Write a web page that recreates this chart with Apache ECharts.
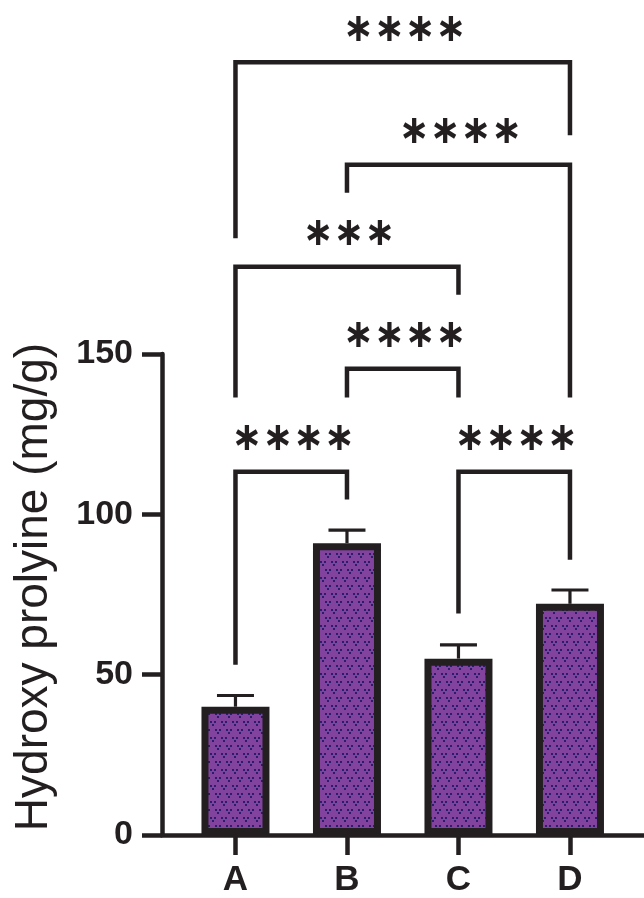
<!DOCTYPE html>
<html>
<head>
<meta charset="utf-8">
<script src="https://cdn.jsdelivr.net/npm/echarts@6/dist/echarts.min.js"></script>
<style>
html,body{margin:0;padding:0;background:#fff;}
#chart{width:644px;height:898px;}
</style>
</head>
<body>
<div id="chart"></div>
<script>
// ---- data ----
const categories = ['A', 'B', 'C', 'D'];
const means = [40.0, 91.0, 55.0, 72.1];
const sems = [3.5, 4.1, 4.3, 4.3];
const yTicks = [0, 50, 100, 150];
const yTitle = 'Hydroxy prolyine (mg/g)';

// significance brackets (group indices, bracket height, leg bottoms, label)
const bracketFrom = [0, 1, 2, 0, 1, 0];
const bracketTo   = [1, 2, 3, 2, 3, 3];
const bracketTop  = [113.3, 145.4, 113.3, 177.2, 209.0, 241.0];
const legFromEnd  = [53.1, 136.4, 69.1, 136.4, 200.3, 186.1];
const legToEnd    = [104.6, 136.4, 85.8, 168.5, 136.4, 218.2];
const bracketLabels = ['\u2217\u2217\u2217\u2217', '\u2217\u2217\u2217\u2217', '\u2217\u2217\u2217\u2217',
                       '\u2217\u2217\u2217', '\u2217\u2217\u2217\u2217', '\u2217\u2217\u2217\u2217'];

// ---- styling helpers ----
const INK = '#231F20';
function makePattern() {
  const w = 11, h = 16;
  const c = document.createElement('canvas');
  c.width = w; c.height = h;
  const g = c.getContext('2d');
  g.fillStyle = '#82439F';
  g.fillRect(0, 0, w, h);
  g.fillStyle = '#2B1D6C';
  const dots = [[0, 0], [4, 0], [2, 3]];
  function motif(ox, oy) {
    dots.forEach(function (d) {
      const x = ox + d[0], y = oy + d[1];
      g.fillRect(x, y, 2, 2);
      g.fillRect(x - w, y, 2, 2);
      g.fillRect(x + w, y, 2, 2);
    });
  }
  motif(1, 1);
  motif(6, 9);
  return c;
}

const chart = echarts.init(document.getElementById('chart'));

const barData = means.map(function (m, i) { return [i, m]; });
const errData = means.map(function (m, i) { return [i, m, sems[i]]; });
const bracketData = bracketFrom.map(function (f, i) {
  return [f, bracketTo[i], bracketTop[i], legFromEnd[i], legToEnd[i], i];
});

const option = {
  animation: false,
  backgroundColor: '#ffffff',
  grid: { left: 162, right: 0, top: 354, bottom: 59, containLabel: false },
  xAxis: {
    type: 'value',
    min: -0.659,
    max: 3.664,
    splitLine: { show: false },
    axisLine: { show: true, lineStyle: { color: INK, width: 4.5 } },
    axisTick: {
      show: true, length: 20, inside: false,
      customValues: categories.map(function (c, i) { return i; }),
      lineStyle: { color: INK, width: 4.5 }
    },
    axisLabel: {
      customValues: categories.map(function (c, i) { return i; }),
      formatter: function (v) { return categories[Math.round(v)]; },
      margin: 28,
      color: INK,
      fontFamily: 'Liberation Sans, Arial, sans-serif',
      fontWeight: 'bold',
      fontSize: 35
    }
  },
  yAxis: {
    type: 'value',
    min: yTicks[0],
    max: yTicks[yTicks.length - 1],
    interval: yTicks[1] - yTicks[0],
    splitLine: { show: false },
    axisLine: { show: true, onZero: false, lineStyle: { color: INK, width: 4.5 } },
    axisTick: { show: true, length: 20, lineStyle: { color: INK, width: 4.5 } },
    axisLabel: {
      margin: 29,
      color: INK,
      fontFamily: 'Liberation Sans, Arial, sans-serif',
      fontWeight: 'bold',
      fontSize: 34
    },
    name: yTitle,
    nameLocation: 'middle',
    nameRotate: 90,
    nameGap: 105,
    nameTextStyle: {
      color: INK,
      fontFamily: 'Liberation Sans, Arial, sans-serif',
      fontSize: 46,
      padding: [0, 0, 0, 15]
    }
  },
  series: [
    {
      type: 'bar',
      data: barData,
      barWidth: 68,
      itemStyle: {
        color: { image: makePattern(), repeat: 'repeat' },
        borderColor: INK,
        borderWidth: 7
      },
      z: 2
    },
    {
      type: 'custom',
      data: errData,
      clip: false,
      z: 3,
      renderItem: function (params, api) {
        const i = api.value(0), m = api.value(1), e = api.value(2);
        const base = api.coord([i, m]);
        const top = api.coord([i, m + e]);
        const half = 18.5;
        return {
          type: 'group',
          children: [
            { type: 'line', shape: { x1: base[0], y1: base[1], x2: top[0], y2: top[1] },
              style: { stroke: INK, lineWidth: 3.2 } },
            { type: 'line', shape: { x1: top[0] - half, y1: top[1], x2: top[0] + half, y2: top[1] },
              style: { stroke: INK, lineWidth: 3.2 } }
          ]
        };
      }
    },
    {
      type: 'custom',
      data: bracketData,
      clip: false,
      z: 4,
      renderItem: function (params, api) {
        const a = api.value(0), b = api.value(1), t = api.value(2);
        const la = api.value(3), lb = api.value(4), idx = api.value(5);
        const p1 = api.coord([a, la]);
        const p2 = api.coord([a, t]);
        const p3 = api.coord([b, t]);
        const p4 = api.coord([b, lb]);
        return {
          type: 'group',
          children: [
            { type: 'polyline',
              shape: { points: [p1, p2, p3, p4] },
              style: { stroke: INK, lineWidth: 4.5, fill: null, lineJoin: 'miter', lineCap: 'butt' } },
            { type: 'text',
              x: (p2[0] + p3[0]) / 2 + 2,
              y: p2[1] - 32,
              scaleX: 0.92,
              style: {
                text: bracketLabels[idx],
                x: 0,
                y: 0,
                align: 'center',
                verticalAlign: 'middle',
                fill: INK,
                font: 'bold 40px "DejaVu Sans"'
              } }
          ]
        };
      }
    }
  ]
};
chart.setOption(option);
</script>
</body>
</html>
